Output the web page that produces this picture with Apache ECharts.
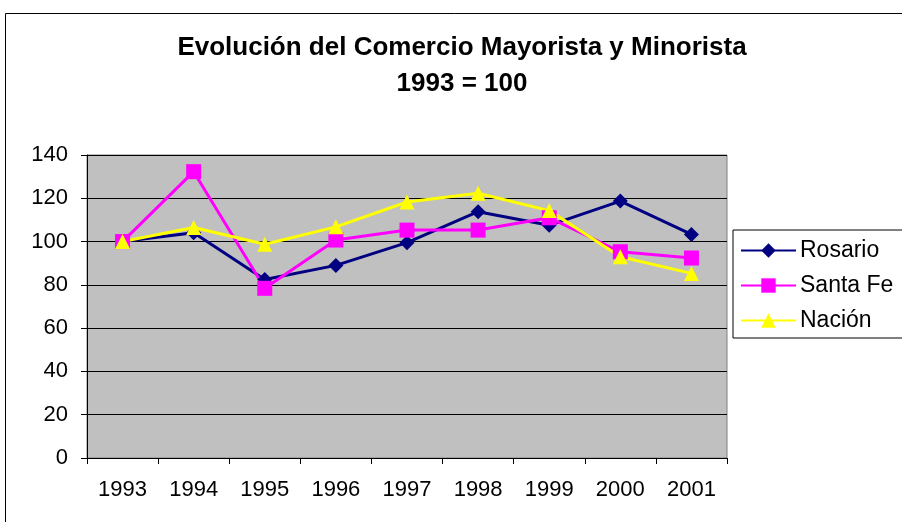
<!DOCTYPE html>
<html>
<head>
<meta charset="utf-8">
<script src="https://cdn.jsdelivr.net/npm/echarts@6/dist/echarts.min.js"></script>
<style>
  html, body { margin: 0; padding: 0; background: #fff; }
  #chart { width: 902px; height: 522px; }
</style>
</head>
<body>
<div id="chart"></div>
<script>
const years = ['1993', '1994', '1995', '1996', '1997', '1998', '1999', '2000', '2001'];
const rosario = [100, 104.1, 82.5, 89, 99.5, 113.8, 107.5, 118.7, 103.3];
const santaFe = [100, 132.3, 78.4, 100.7, 105.3, 105.3, 111, 95.3, 92.4];
const nacion = [100, 106.5, 98.8, 106.8, 118.3, 122.3, 114.3, 93, 85.3];

const chart = echarts.init(document.getElementById('chart'));
const font = 'Liberation Sans, Arial, sans-serif';

function lineSeries(name, data, color, symbol, size) {
  return {
    name,
    type: 'line',
    data,
    symbol,
    symbolSize: size,
    showSymbol: true,
    animation: false,
    lineStyle: { color, width: 3 },
    itemStyle: { color, borderWidth: 0 },
  };
}

const option = {
  animation: false,
  title: {
    text: 'Evolución del Comercio Mayorista y Minorista\n1993 = 100',
    left: 462,
    top: 30,
    padding: 0,
    textAlign: 'center',
    textStyle: {
      fontFamily: font,
      fontSize: 26,
      fontWeight: 'bold',
      color: '#000',
      lineHeight: 36,
    },
  },
  graphic: [
    {
      type: 'rect',
      shape: { x: 5.5, y: 13.5, width: 1000, height: 1000 },
      style: { fill: null, stroke: '#000', lineWidth: 1 },
      silent: true,
    },
  ],
  legend: {
    orient: 'vertical',
    left: 733,
    top: 230,
    padding: [9, 30, 6, 7],
    borderColor: '#000',
    borderWidth: 1,
    itemWidth: 55,
    itemHeight: 18,
    itemGap: 12,
    textStyle: { fontFamily: font, fontSize: 23, lineHeight: 20, color: '#000', padding: [0, 0, 0, -1] },
    data: ['Rosario', 'Santa Fe', 'Nación'],
  },
  grid: {
    left: 87,
    right: 175,
    top: 155,
    bottom: 64,
    show: true,
    backgroundColor: '#C0C0C0',
    borderColor: '#808080',
    borderWidth: 1,
  },
  xAxis: {
    type: 'category',
    data: years,
    boundaryGap: true,
    axisLine: { lineStyle: { color: '#000', width: 1 } },
    axisTick: { show: true, inside: false, length: 6, interval: 0, lineStyle: { color: '#000' } },
    axisLabel: { fontFamily: font, fontSize: 22, color: '#000', margin: 21, interval: 0 },
    splitLine: { show: false },
  },
  yAxis: {
    type: 'value',
    min: 0,
    max: 140,
    interval: 20,
    axisLine: { show: true, lineStyle: { color: '#000', width: 1 } },
    axisTick: { show: true, inside: false, length: 6, lineStyle: { color: '#000' } },
    axisLabel: { fontFamily: font, fontSize: 22, color: '#000', margin: 19 },
    splitLine: { show: true, lineStyle: { color: '#000', width: 1 } },
  },
  series: [
    lineSeries('Rosario', rosario, '#000080', 'diamond', 15),
    lineSeries('Santa Fe', santaFe, '#FF00FF', 'rect', 15),
    lineSeries('Nación', nacion, '#FFFF00', 'triangle', 15),
  ],
};

chart.setOption(option);
</script>
</body>
</html>
